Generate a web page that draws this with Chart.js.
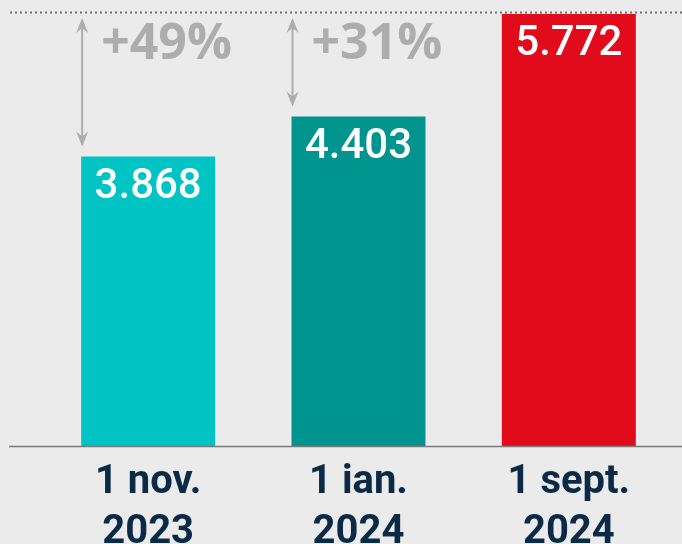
<!DOCTYPE html>
<html>
<head>
<meta charset="utf-8">
<script src="https://cdn.jsdelivr.net/npm/chart.js@4/dist/chart.umd.min.js"></script>
<style>
  html, body { margin: 0; padding: 0; background: #ebebeb; }
  #wrap { width: 682px; height: 544px; position: relative; }
</style>
</head>
<body>
<div id="wrap"><canvas id="myChart"></canvas></div>
<script>
// date labels (two lines each)
const categories = [['1 nov.', '2023'], ['1 ian.', '2024'], ['1 sept.', '2024']];
const values = [3868, 4403, 5772];
const barColors = ['#00c3c3', '#00948f', '#e10b1b'];
// growth up to the last value
const growthLabels = ['+49%', '+31%', null];

const fmt = v => String(v).replace(/\B(?=(\d{3})+(?!\d))/g, '.');

const overlay = {
  id: 'overlay',
  afterDatasetsDraw(chart) {
    const ctx = chart.ctx;
    const meta = chart.getDatasetMeta(0);
    const yScale = chart.scales.y;
    const xScale = chart.scales.x;
    const topY = yScale.getPixelForValue(Math.max(...values));
    const baseY = yScale.getPixelForValue(0);

    ctx.save();
    // dotted top line
    ctx.strokeStyle = '#6e6e6e';
    ctx.lineWidth = 2;
    ctx.setLineDash([2, 3]);
    ctx.beginPath();
    ctx.moveTo(10, topY - 1.5);
    ctx.lineTo(chart.width, topY - 1.5);
    ctx.stroke();
    ctx.setLineDash([]);

    // baseline
    ctx.strokeStyle = '#7a7a7a';
    ctx.lineWidth = 1.5;
    ctx.beginPath();
    ctx.moveTo(9, baseY + 0.5);
    ctx.lineTo(chart.width, baseY + 0.5);
    ctx.stroke();

    meta.data.forEach((bar, i) => {
      const left = bar.x - bar.width / 2;
      // value inside bar
      ctx.fillStyle = '#ffffff';
      ctx.font = '500 42px Roboto';
      ctx.textAlign = 'center';
      ctx.textBaseline = 'alphabetic';
      ctx.fillText(fmt(values[i]), bar.x, bar.y + 41);

      // growth arrow + label
      if (growthLabels[i]) {
        const ax = left + 1;
        const y1 = topY + 4;
        const y2 = bar.y - 10;
        ctx.strokeStyle = '#adadad';
        ctx.fillStyle = '#adadad';
        ctx.lineWidth = 2;
        ctx.beginPath();
        ctx.moveTo(ax, y1 + 4);
        ctx.lineTo(ax, y2 - 4);
        ctx.stroke();
        [[y1, 1], [y2, -1]].forEach(([ty, d]) => {
          ctx.beginPath();
          ctx.moveTo(ax, ty);
          ctx.lineTo(ax - 6, ty + d * 15);
          ctx.lineTo(ax, ty + d * 10);
          ctx.lineTo(ax + 6, ty + d * 15);
          ctx.closePath();
          ctx.fill();
        });
        ctx.font = 'bold 50px "Open Sans"';
        ctx.textAlign = 'left';
        ctx.fillText(growthLabels[i], left + 20, topY + 45);
      }

      // category label under the axis
      const cx = xScale.getPixelForValue(i);
      ctx.fillStyle = '#0c2a46';
      ctx.font = 'bold 40px Roboto';
      ctx.textAlign = 'center';
      categories[i].forEach((line, k) => {
        ctx.fillText(line, cx, baseY + 47 + k * 50);
      });
    });
    ctx.restore();
  }
};

const ctx = document.getElementById('myChart');
new Chart(ctx, {
  type: 'bar',
  data: {
    labels: categories,
    datasets: [{
      data: values,
      backgroundColor: barColors,
      borderWidth: 0,
      barPercentage: 0.637,
      categoryPercentage: 1
    }]
  },
  options: {
    responsive: true,
    maintainAspectRatio: false,
    animation: false,
    layout: { padding: { left: 43, right: 8, top: 12, bottom: 98 } },
    plugins: { legend: { display: false }, tooltip: { enabled: false } },
    scales: {
      x: { display: false },
      y: { display: false, min: 0, max: 5800 }
    }
  },
  plugins: [overlay]
});
</script>
</body>
</html>
